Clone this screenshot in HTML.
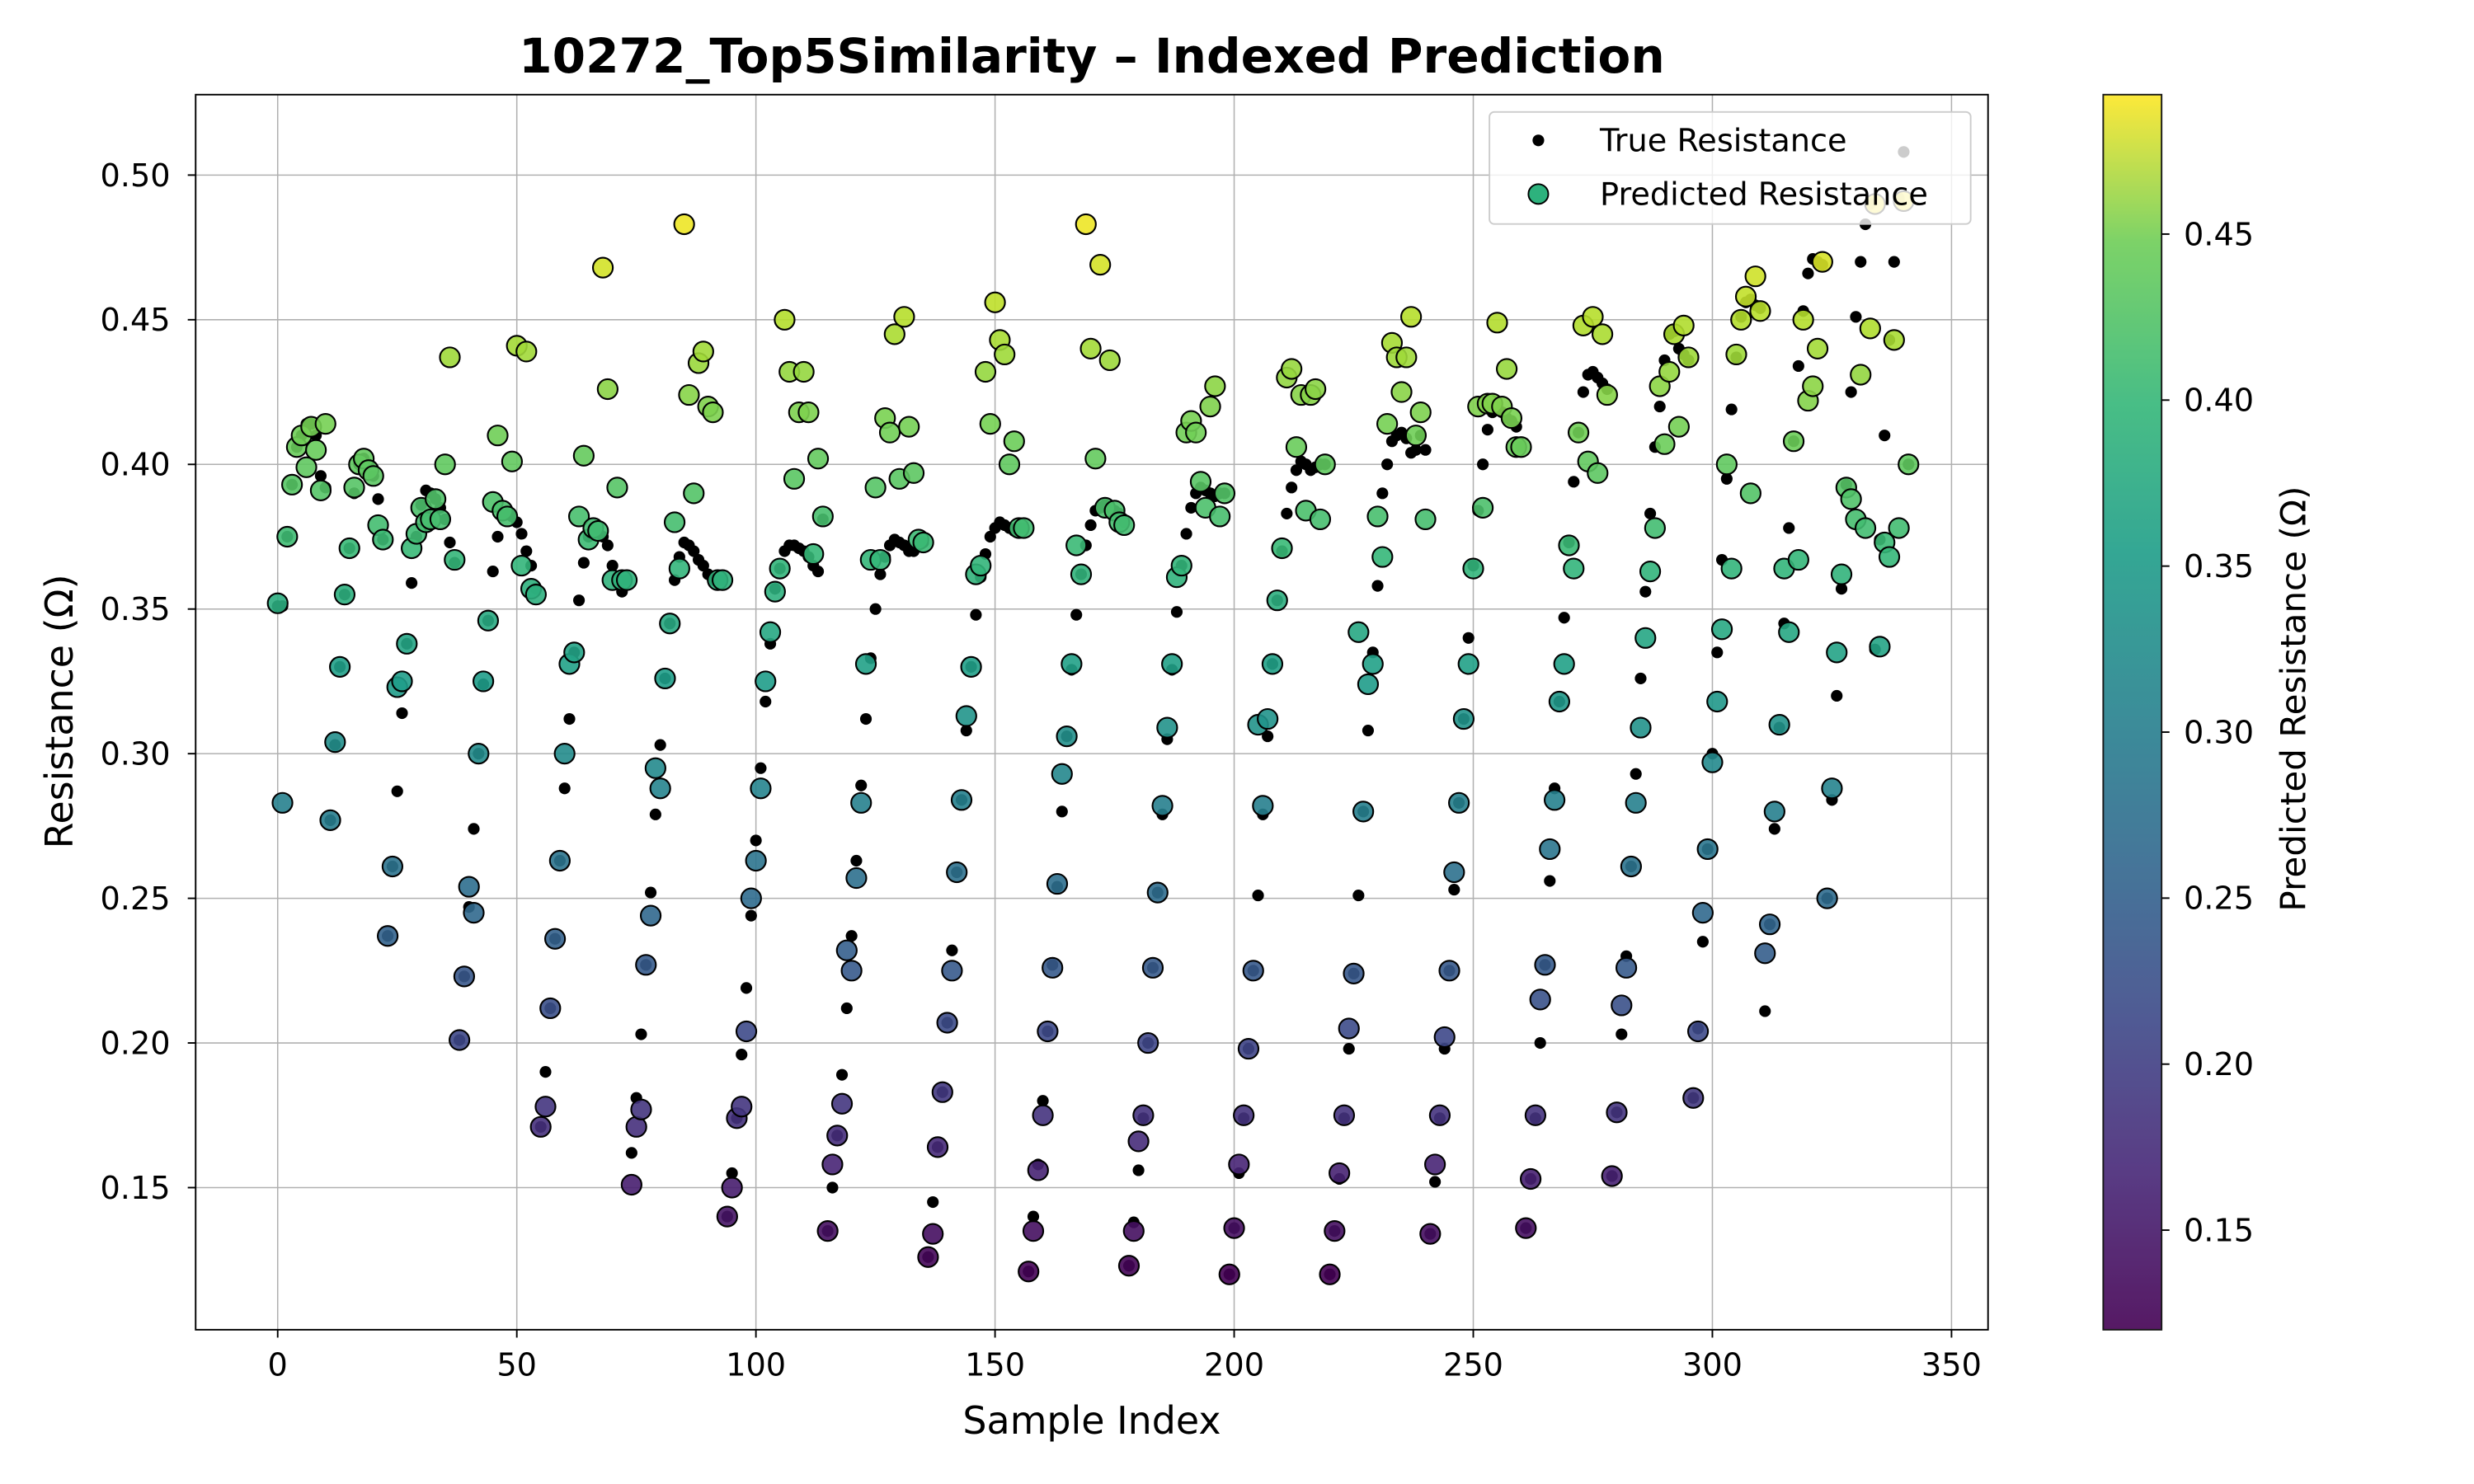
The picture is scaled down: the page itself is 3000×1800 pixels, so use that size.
<!DOCTYPE html>
<html><head><meta charset="utf-8"><style>
body{margin:0;background:#fff}
svg{display:block;font-family:"DejaVu Sans","Liberation Sans",sans-serif}
</style></head><body>
<svg id="chart" width="3000" height="1800" viewBox="0 0 1568 940.8" xmlns="http://www.w3.org/2000/svg">
<rect width="1568" height="940.8" fill="#fff"/>
<g id="grid"></g>
<g id="marks"></g>
<rect x="124" y="60" width="1136" height="783" fill="none" stroke="#000" stroke-width="1"/>
<g id="ticks"></g>
<text x="692" y="46" text-anchor="middle" font-size="30.4" font-weight="bold">10272_Top5Similarity – Indexed Prediction</text>
<text x="692" y="909" text-anchor="middle" font-size="24">Sample Index</text>
<text transform="translate(46,451) rotate(-90)" text-anchor="middle" font-size="24">Resistance (Ω)</text>
<g>
<rect x="944" y="71" width="305" height="71" rx="3" fill="#fff" fill-opacity="0.8" stroke="#ccc"/>
<circle cx="975" cy="89" r="3.7" fill="#000"/>
<text x="1014" y="96" font-size="20">True Resistance</text>
<circle cx="975" cy="123" r="6.3" fill="#2db27d" stroke="#000" stroke-width="1"/>
<text x="1014" y="130" font-size="20">Predicted Resistance</text>
</g>
<defs><linearGradient id="vir" x1="0" y1="1" x2="0" y2="0">
<stop offset="0" stop-color="#440154"/><stop offset="0.13" stop-color="#482878"/><stop offset="0.25" stop-color="#3e4989"/><stop offset="0.38" stop-color="#31688e"/><stop offset="0.5" stop-color="#26828e"/><stop offset="0.63" stop-color="#1f9e89"/><stop offset="0.75" stop-color="#35b779"/><stop offset="0.88" stop-color="#6ece58"/><stop offset="1" stop-color="#fde725"/>
</linearGradient></defs>
<rect x="1333" y="60" width="37" height="783" fill="url(#vir)" stroke="#000" stroke-width="1" opacity="0.9"/>
<g id="cbticks"></g>
<text transform="translate(1461,443) rotate(-90)" text-anchor="middle" font-size="22">Predicted Resistance (Ω)</text>
</svg>
<script>
const trueVals=[0.351,0.351,0.375,0.393,0.406,0.41,0.414,0.414,0.41,0.396,0.392,
0.277,0.303,0.330,0.355,0.371,0.39,0.40,0.402,0.40,0.396,0.388,0.374,
0.237,0.261,0.287,0.314,0.338,0.359,0.375,0.386,0.391,0.39,0.388,0.385,0.381,0.373,0.366,
0.201,0.223,0.247,0.274,0.30,0.324,0.346,0.363,0.375,0.383,0.383,0.382,0.38,0.376,0.37,0.365,0.357,
0.171,0.19,0.212,0.236,0.263,0.288,0.312,0.335,0.353,0.366,0.375,0.378,0.377,0.375,0.372,0.365,0.36,0.356,0.36,
0.162,0.181,0.203,0.227,0.252,0.279,0.303,0.326,0.345,0.36,0.368,0.373,0.372,0.37,0.367,0.365,0.362,0.36,0.36,0.36,
0.14,0.155,0.174,0.196,0.219,0.244,0.27,0.295,0.318,0.338,0.357,0.364,0.37,0.372,0.372,0.371,0.37,0.368,0.365,0.363,0.381,
0.135,0.15,0.168,0.189,0.212,0.237,0.263,0.289,0.312,0.333,0.35,0.362,0.368,0.372,0.374,0.373,0.372,0.37,0.37,0.373,0.373,
0.126,0.145,0.164,0.183,0.207,0.232,0.259,0.284,0.308,0.33,0.348,0.361,0.369,0.375,0.378,0.38,0.379,0.378,0.377,0.378,0.378,
0.121,0.14,0.158,0.18,0.204,0.227,0.254,0.28,0.306,0.329,0.348,0.362,0.372,0.379,0.384,0.385,0.386,0.385,0.384,0.383,0.38,
0.123,0.138,0.156,0.174,0.2,0.226,0.252,0.279,0.305,0.329,0.349,0.365,0.376,0.385,0.39,0.392,0.391,0.39,0.389,0.39,0.39,
0.12,0.136,0.155,0.174,0.198,0.225,0.251,0.279,0.306,0.331,0.353,0.37,0.383,0.392,0.398,0.401,0.4,0.398,0.399,0.4,0.4,
0.12,0.135,0.153,0.174,0.198,0.224,0.251,0.28,0.308,0.335,0.358,0.39,0.4,0.408,0.41,0.411,0.409,0.404,0.405,0.41,0.405,
0.134,0.152,0.174,0.198,0.225,0.253,0.283,0.312,0.34,0.365,0.384,0.4,0.412,0.418,0.42,0.418,0.416,0.415,0.413,0.406,
0.136,0.153,0.174,0.2,0.227,0.256,0.288,0.318,0.347,0.373,0.394,0.411,0.425,0.431,0.432,0.43,0.428,0.426,
0.154,0.176,0.203,0.23,0.261,0.293,0.326,0.356,0.383,0.406,0.42,0.436,0.445,0.446,0.44,0.438,0.436,
0.181,0.205,0.235,0.267,0.3,0.335,0.367,0.395,0.419,0.437,0.451,0.456,0.457,0.455,0.454,
0.211,0.241,0.274,0.309,0.345,0.378,0.408,0.434,0.453,0.466,0.471,0.47,0.469,
0.25,0.284,0.32,0.357,0.393,0.425,0.451,0.47,0.483,0.49,0.336,0.374,0.41,0.443,0.47,0.492,0.508,0.40];
const predVals=[0.352,0.283,0.375,0.393,0.406,0.41,0.399,0.413,0.405,0.391,0.414,
0.277,0.304,0.330,0.355,0.371,0.392,0.40,0.402,0.398,0.396,0.379,0.374,
0.237,0.261,0.323,0.325,0.338,0.371,0.376,0.385,0.38,0.381,0.388,0.381,0.4,0.437,0.367,
0.201,0.223,0.254,0.245,0.30,0.325,0.346,0.387,0.41,0.384,0.382,0.401,0.441,0.365,0.439,0.357,0.355,
0.171,0.178,0.212,0.236,0.263,0.30,0.331,0.335,0.382,0.403,0.374,0.378,0.377,0.468,0.426,0.36,0.392,0.36,0.36,
0.151,0.171,0.177,0.227,0.244,0.295,0.288,0.326,0.345,0.38,0.364,0.483,0.424,0.39,0.435,0.439,0.42,0.418,0.36,0.36,
0.14,0.15,0.174,0.178,0.204,0.25,0.263,0.288,0.325,0.342,0.356,0.364,0.45,0.432,0.395,0.418,0.432,0.418,0.369,0.402,0.382,
0.135,0.158,0.168,0.179,0.232,0.225,0.257,0.283,0.331,0.367,0.392,0.367,0.416,0.411,0.445,0.395,0.451,0.413,0.397,0.374,0.373,
0.126,0.134,0.164,0.183,0.207,0.225,0.259,0.284,0.313,0.33,0.362,0.365,0.432,0.414,0.456,0.443,0.438,0.4,0.408,0.378,0.378,
0.121,0.135,0.156,0.175,0.204,0.226,0.255,0.293,0.306,0.331,0.372,0.362,0.483,0.44,0.402,0.469,0.385,0.436,0.384,0.38,0.379,
0.123,0.135,0.166,0.175,0.2,0.226,0.252,0.282,0.309,0.331,0.361,0.365,0.411,0.415,0.411,0.394,0.385,0.42,0.427,0.382,0.39,
0.12,0.136,0.158,0.175,0.198,0.225,0.31,0.282,0.312,0.331,0.353,0.371,0.43,0.433,0.406,0.424,0.384,0.424,0.426,0.381,0.4,
0.12,0.135,0.155,0.175,0.205,0.224,0.342,0.28,0.324,0.331,0.382,0.368,0.414,0.442,0.437,0.425,0.437,0.451,0.41,0.418,0.381,
0.134,0.158,0.175,0.202,0.225,0.259,0.283,0.312,0.331,0.364,0.42,0.385,0.421,0.421,0.449,0.42,0.433,0.416,0.406,0.406,
0.136,0.153,0.175,0.215,0.227,0.267,0.284,0.318,0.331,0.372,0.364,0.411,0.448,0.401,0.451,0.397,0.445,0.424,
0.154,0.176,0.213,0.226,0.261,0.283,0.309,0.34,0.363,0.378,0.427,0.407,0.432,0.445,0.413,0.448,0.437,
0.181,0.204,0.245,0.267,0.297,0.318,0.343,0.4,0.364,0.438,0.45,0.458,0.39,0.465,0.453,
0.231,0.241,0.28,0.31,0.364,0.342,0.408,0.367,0.45,0.422,0.427,0.44,0.47,
0.25,0.288,0.335,0.362,0.392,0.388,0.381,0.431,0.378,0.447,0.49,0.337,0.373,0.368,0.443,0.378,0.491,0.40];
const xTicks=[0,50,100,150,200,250,300,350];
const yTicks=[0.15,0.20,0.25,0.30,0.35,0.40,0.45,0.50];
const cbTicks=[0.15,0.20,0.25,0.30,0.35,0.40,0.45];
const cMin=0.12,cMax=0.492;
const NS='http://www.w3.org/2000/svg';
const xS=i=>176+i*3.031;
const yS=v=>111+(0.50-v)*1834;
const cbY=v=>843-(v-cMin)/(cMax-cMin)*783;
const vir=[[68,1,84],[72,40,120],[62,73,137],[49,104,142],[38,130,142],[31,158,137],[53,183,121],[110,206,88],[181,222,43],[253,231,37]];
function color(v){let t=Math.max(0,Math.min(1,(v-cMin)/(cMax-cMin)))*(vir.length-1);let k=Math.min(vir.length-2,Math.floor(t)),f=t-k;
const c=vir[k].map((a,j)=>Math.round(a+(vir[k+1][j]-a)*f));return `rgb(${c[0]},${c[1]},${c[2]})`;}
function mk(tag,at,parent){const e=document.createElementNS(NS,tag);for(const k in at)e.setAttribute(k,at[k]);parent.appendChild(e);return e;}
const grid=document.getElementById('grid'),ticks=document.getElementById('ticks'),marks=document.getElementById('marks'),cbt=document.getElementById('cbticks');
xTicks.forEach(t=>{const x=xS(t);
 const g=mk('line',{x1:x,x2:x,y1:60,y2:843,stroke:'#b0b0b0','stroke-width':0.8},grid);
 
 
 mk('line',{x1:x,x2:x,y1:843,y2:848,stroke:'#000'},ticks);
 const l=mk('text',{x:x,y:872,'text-anchor':'middle','font-size':20},ticks);l.textContent=t;
 
 });
yTicks.forEach(t=>{const y=yS(t);
 const g=mk('line',{x1:124,x2:1260,y1:y,y2:y,stroke:'#b0b0b0','stroke-width':0.8},grid);
 
 
 mk('line',{x1:119,x2:124,y1:y,y2:y,stroke:'#000'},ticks);
 const l=mk('text',{x:108,y:y+7,'text-anchor':'end','font-size':20},ticks);l.textContent=t.toFixed(2);
 
 });
cbTicks.forEach(t=>{const y=cbY(t);
 mk('line',{x1:1370,x2:1375,y1:y,y2:y,stroke:'#000'},cbt);
 const l=mk('text',{x:1384,y:y+7,'font-size':20},cbt);l.textContent=t.toFixed(2);
 
 });
trueVals.forEach((v,i)=>{const c=mk('circle',{cx:xS(i),cy:yS(v),r:3.7,fill:'#000'},marks);
 
 });
predVals.forEach((v,i)=>{const c=mk('circle',{cx:xS(i),cy:yS(v),r:6.3,fill:color(v),stroke:'#000','stroke-width':1.1,'fill-opacity':0.9},marks);
 
 });
</script>
</body></html>
